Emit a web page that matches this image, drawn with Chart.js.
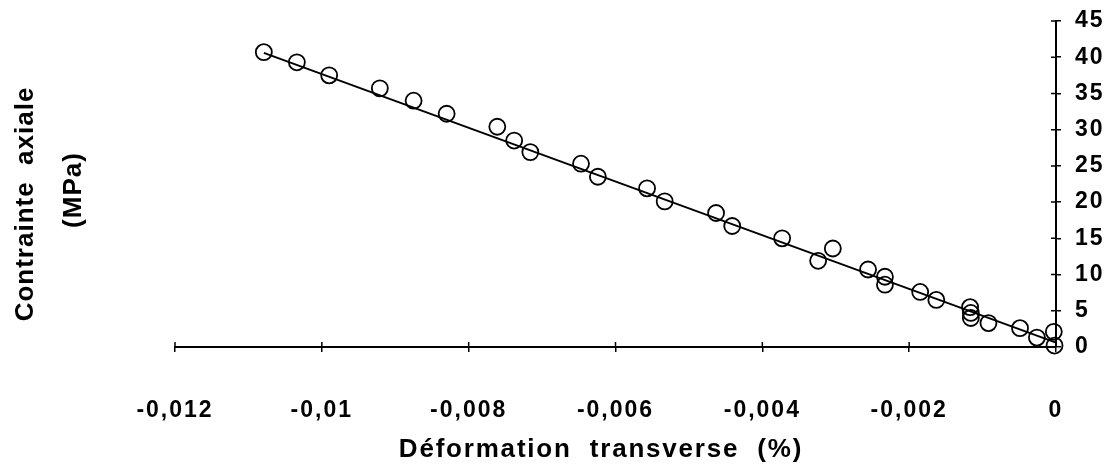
<!DOCTYPE html>
<html>
<head>
<meta charset="utf-8">
<script src="https://cdn.jsdelivr.net/npm/chart.js@4.4.1/dist/chart.umd.min.js"></script>
<style>
  html, body { margin: 0; background: #fff; }
  #wrap { width: 1117px; height: 468px; }
</style>
</head>
<body>
<div id="wrap"><canvas id="chart" width="1117" height="468"></canvas></div>
<script>
// --- Data ---
const strain = [
    -0.01079, -0.01034, -0.00990, -0.00921, -0.00875, -0.00830,
    -0.00761, -0.00738, -0.00716, -0.00647, -0.00624, -0.00557,
    -0.00533, -0.00463, -0.00441, -0.00373, -0.00324, -0.00304,
    -0.00256, -0.00233, -0.00233, -0.00185, -0.00163, -0.00117,
    -0.00116, -0.00116, -0.00092, -0.00049, -0.00026, -0.00003, -0.00002
];
const stress = [
    40.7, 39.3, 37.5, 35.7, 34.0, 32.2,
    30.4, 28.5, 26.9, 25.3, 23.5, 21.9,
    20.1, 18.5, 16.7, 15.0, 11.9, 13.6,
    10.7, 9.7, 8.6, 7.6, 6.5, 5.5,
    4.7, 4.0, 3.3, 2.6, 1.3, 2.1, 0.2
];
const fitStrain = [-0.01079, 0];
const fitStress = [40.6, 0.6];

const xTicks = [-0.012, -0.01, -0.008, -0.006, -0.004, -0.002, 0];
const yTicks = [0, 5, 10, 15, 20, 25, 30, 35, 40, 45];

const xTitle = 'Déformation  transverse  (%)';
const yTitle = ['Contrainte  axiale', '(MPa)'];

const FONT = '"Liberation Sans", Arial, Helvetica, sans-serif';

// --- Plugins ---
const spacing = {
    id: 'spacing',
    beforeUpdate(chart) { chart.ctx.letterSpacing = '2px'; },
    beforeDraw(chart) { chart.ctx.letterSpacing = '2px'; }
};

// ticks in the original cross the axis line, so add the inner half
const innerTicks = {
    id: 'innerTicks',
    afterDraw(chart) {
        const ctx = chart.ctx;
        const xs = chart.scales.x, ys = chart.scales.y;
        ctx.save();
        ctx.strokeStyle = '#000';
        ctx.lineWidth = 1.5;
        ctx.beginPath();
        xTicks.forEach(v => {
            const px = xs.getPixelForValue(v);
            ctx.moveTo(px, ys.bottom);
            ctx.lineTo(px, ys.bottom - 5);
        });
        yTicks.forEach(v => {
            const py = ys.getPixelForValue(v);
            ctx.moveTo(xs.right, py);
            ctx.lineTo(xs.right - 5, py);
        });
        ctx.stroke();
        ctx.restore();
    }
};

function drawText(ctx, text, x, y, rotate) {
    ctx.save();
    ctx.fillStyle = '#000';
    ctx.font = 'bold 26px ' + FONT;
    ctx.letterSpacing = rotate ? '1px' : '1.8px';
    ctx.textAlign = 'center';
    ctx.textBaseline = 'middle';
    ctx.translate(x, y);
    if (rotate) ctx.rotate(-Math.PI / 2);
    ctx.fillText(text, 0, 0);
    ctx.restore();
}

const titles = {
    id: 'titles',
    afterDraw(chart) {
        drawText(chart.ctx, yTitle[0], 26, 204, true);
        drawText(chart.ctx, yTitle[1], 74, 190, true);
        drawText(chart.ctx, xTitle, 601, 450, false);
    }
};

// --- Chart ---
const ctx = document.getElementById('chart').getContext('2d');
const chart = new Chart(ctx, {
    type: 'scatter',
    data: {
        datasets: [
            {
                label: 'fit',
                type: 'line',
                data: fitStrain.map((x, i) => ({ x, y: fitStress[i] })),
                borderColor: '#000',
                borderWidth: 2,
                pointRadius: 0,
                fill: false,
                clip: false,
                order: 2
            },
            {
                label: 'mesures',
                data: strain.map((x, i) => ({ x, y: stress[i] })),
                pointStyle: 'circle',
                pointRadius: 8,
                pointBorderWidth: 1.8,
                pointBorderColor: '#000',
                pointBackgroundColor: 'rgba(0,0,0,0)',
                clip: false,
                order: 1
            }
        ]
    },
    options: {
        responsive: false,
        animation: false,
        layout: { padding: { left: 175, top: 21, right: 0, bottom: 0 } },
        plugins: {
            legend: { display: false },
            tooltip: { enabled: false }
        },
        scales: {
            x: {
                type: 'linear',
                min: -0.012,
                max: 0,
                afterBuildTicks: s => { s.ticks = xTicks.map(v => ({ value: v })); },
                afterFit: s => { s.height = 121; s.paddingLeft = 0; s.paddingRight = 0; },
                grid: { drawOnChartArea: false, tickLength: 5, color: '#000', lineWidth: 1.5 },
                border: { display: true, color: '#000', width: 2 },
                ticks: {
                    color: '#000',
                    padding: 45,
                    maxRotation: 0,
                    autoSkip: false,
                    font: { family: FONT, size: 23, weight: 'bold' },
                    callback: v => String(v).replace('.', ',')
                }
            },
            y: {
                type: 'linear',
                position: 'right',
                min: 0,
                max: 45,
                afterBuildTicks: s => { s.ticks = yTicks.map(v => ({ value: v })); },
                afterFit: s => { s.width = 61; s.paddingTop = 0; s.paddingBottom = 0; },
                grid: { drawOnChartArea: false, tickLength: 5, color: '#000', lineWidth: 1.5 },
                border: { display: true, color: '#000', width: 2 },
                ticks: {
                    color: '#000',
                    padding: 14,
                    font: { family: FONT, size: 23, weight: 'bold' }
                }
            }
        }
    },
    plugins: [spacing, innerTicks, titles]
});
</script>
</body>
</html>
